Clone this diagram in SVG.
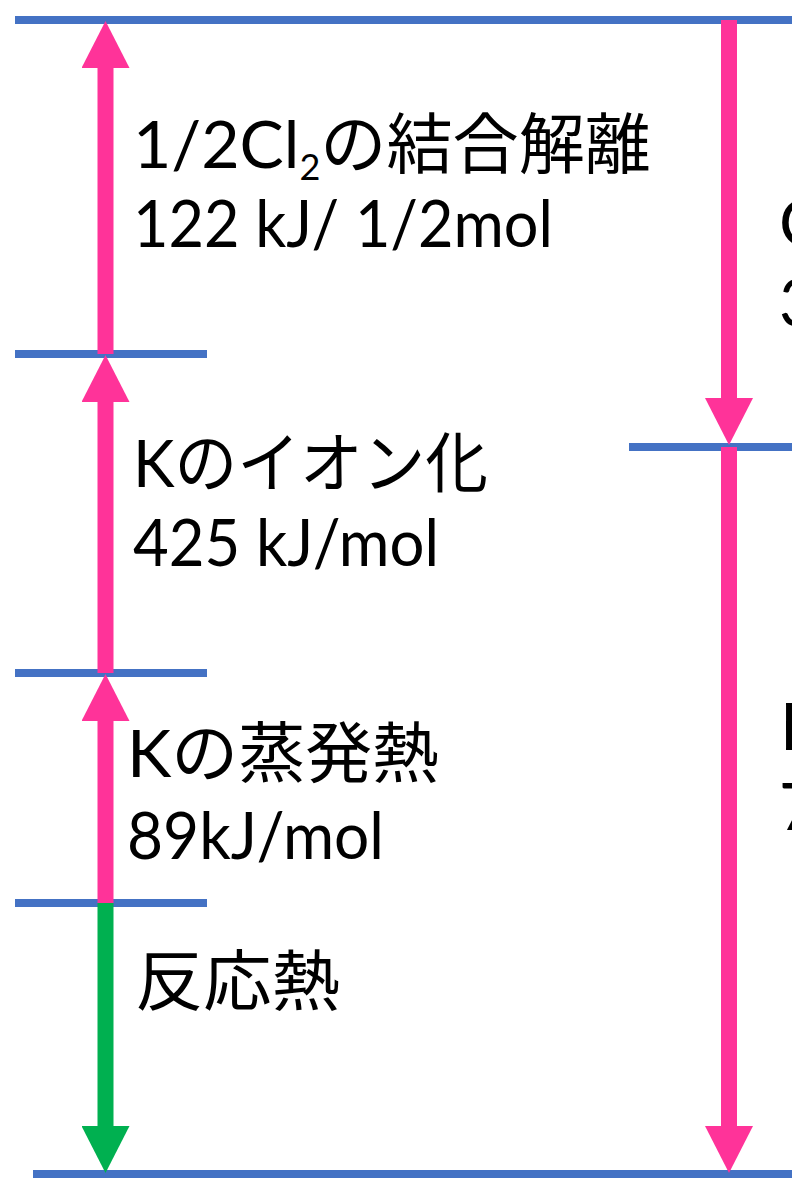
<svg xmlns="http://www.w3.org/2000/svg" width="792" height="1179" viewBox="0 0 792 1179">
  <style>
    .lvl { stroke: #4472C4; stroke-width: 8; fill: none; }
    .pk { stroke: #FF3399; stroke-width: 16; fill: none; }
    .gr { stroke: #00B050; stroke-width: 16; fill: none; }
    .t { font-family: "Lato", "Noto Sans CJK JP", sans-serif; font-size: 66px; fill: #000; }
  </style>
  <defs>
    <marker id="hp" viewBox="0 0 47 48" markerWidth="47" markerHeight="48" refX="0" refY="24" orient="auto" markerUnits="userSpaceOnUse">
      <path d="M0,0 L47,24 L0,48 Z" fill="#FF3399"/>
    </marker>
    <marker id="hg" viewBox="0 0 47 48" markerWidth="47" markerHeight="48" refX="0" refY="24" orient="auto" markerUnits="userSpaceOnUse">
      <path d="M0,0 L47,24 L0,48 Z" fill="#00B050"/>
    </marker>
  </defs>
  <rect width="792" height="1179" fill="#fff"/>
  <g id="levels">
    <line class="lvl" x1="15" y1="20" x2="792" y2="20"/>
    <line class="lvl" x1="15" y1="354" x2="207" y2="354"/>
    <line class="lvl" x1="629" y1="447" x2="792" y2="447"/>
    <line class="lvl" x1="15" y1="673" x2="207" y2="673"/>
    <line class="lvl" x1="15" y1="903" x2="207" y2="903"/>
    <line class="lvl" x1="33" y1="1174" x2="792" y2="1174"/>
  </g>
  <g id="connectors">
    <line class="pk" x1="105.5" y1="903" x2="105.5" y2="721" marker-end="url(#hp)"/>
    <line class="pk" x1="105.5" y1="673" x2="105.5" y2="402" marker-end="url(#hp)"/>
    <line class="pk" x1="105.5" y1="354" x2="105.5" y2="68" marker-end="url(#hp)"/>
    <line class="gr" x1="105.5" y1="903" x2="105.5" y2="1126" marker-end="url(#hg)"/>
    <line class="pk" x1="729" y1="20" x2="729" y2="398" marker-end="url(#hp)"/>
    <line class="pk" x1="729" y1="447" x2="729" y2="1126" marker-end="url(#hp)"/>
  </g>
  <g id="label-cl2">
    <text class="t" x="133" y="168" textLength="518" lengthAdjust="spacingAndGlyphs">1/2Cl<tspan font-size="36" dy="12">2</tspan><tspan dy="-12">の結合解離</tspan></text>
    <text class="t" x="133" y="247" textLength="420" lengthAdjust="spacingAndGlyphs">122 kJ/ 1/2mol</text>
  </g>
  <g id="label-ion">
    <text class="t" x="133" y="487" textLength="355" lengthAdjust="spacingAndGlyphs">Kのイオン化</text>
    <text class="t" x="133" y="566" textLength="306" lengthAdjust="spacingAndGlyphs">425 kJ/mol</text>
  </g>
  <g id="label-vap">
    <text class="t" x="127" y="777" textLength="312" lengthAdjust="spacingAndGlyphs">Kの蒸発熱</text>
    <text class="t" x="127" y="859" textLength="257" lengthAdjust="spacingAndGlyphs">89kJ/mol</text>
  </g>
  <g id="label-react">
    <text class="t" x="135" y="1005" textLength="205" lengthAdjust="spacingAndGlyphs">反応熱</text>
  </g>
  <g id="label-right">
    <text class="t" x="779" y="246">C</text>
    <text class="t" x="779" y="326">3</text>
    <text class="t" x="780" y="750">K</text>
    <text class="t" x="779" y="830">7</text>
  </g>
</svg>
